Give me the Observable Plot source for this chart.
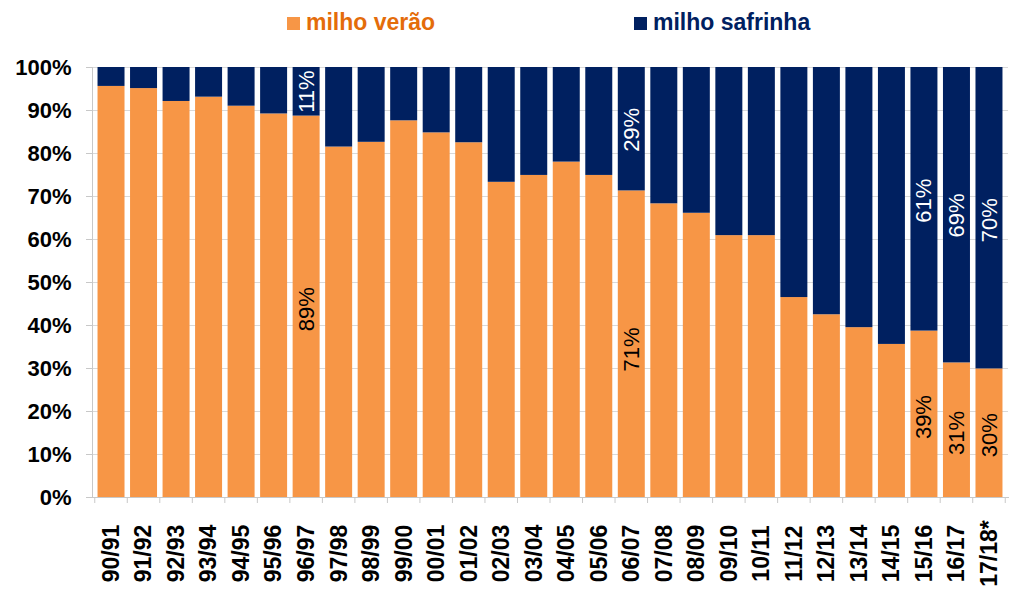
<!DOCTYPE html>
<html><head><meta charset="utf-8">
<script src="https://cdn.jsdelivr.net/npm/d3@7"></script>
<script src="https://cdn.jsdelivr.net/npm/@observablehq/plot@0.6"></script>
<style>
body{margin:0;background:#fff;width:1024px;height:596px;overflow:hidden;font-family:"Liberation Sans",Arial,sans-serif}
#legend{position:relative;height:50px}
.item{position:absolute;top:9px;font-family:"Liberation Sans",Arial,sans-serif;font-weight:bold;font-size:23px;line-height:26px;white-space:nowrap}
.sw{display:inline-block;width:13px;height:13px;margin-right:6px;vertical-align:0px}
</style></head><body>
<div id="legend"></div><div id="chart"></div>
<script>
const seasons = ["90/91","91/92","92/93","93/94","94/95","95/96","96/97","97/98","98/99","99/00","00/01","01/02","02/03","03/04","04/05","05/06","06/07","07/08","08/09","09/10","10/11","11/12","12/13","13/14","14/15","15/16","16/17","17/18*"];
const verao = [95.6,95.1,92.1,93.1,91.0,89.2,88.7,81.5,82.6,87.6,84.8,82.5,73.3,74.9,78.0,74.9,71.3,68.3,66.1,60.9,60.9,46.5,42.5,39.5,35.6,38.7,31.3,29.9];
const seriesNames = ["milho verão","milho safrinha"];
const seriesColors = ["#F79646","#002060"];
const legendTextColors = ["#E46C0A","#002060"];
const labelTextColors = ["#000000","#ffffff"];
const yTicks = [0,10,20,30,40,50,60,70,80,90,100];

// data labels: season, series, text, label-centre value (%)
const labelSeason = ["96/97","96/97","06/07","06/07","15/16","15/16","16/17","16/17","17/18*","17/18*"];
const labelSeries = ["milho verão","milho safrinha","milho verão","milho safrinha","milho verão","milho safrinha","milho verão","milho safrinha","milho verão","milho safrinha"];
const labelText = ["89%","11%","71%","29%","39%","61%","31%","69%","30%","70%"];
const labelAt = [43.8,94.4,34.4,85.5,18.7,69,15,65.6,14.5,64.5];

const rows = [];
seriesNames.forEach((s, k) => seasons.forEach((season, i) => rows.push({season, series: s, value: k === 0 ? verao[i] : 100 - verao[i]})));
const labels = labelText.map((t, i) => ({season: labelSeason[i], series: labelSeries[i], text: t, y: labelAt[i]}));

const legend = document.getElementById("legend");
const legendLeft = [287, 634];
seriesNames.forEach((s, k) => {
  const d = document.createElement("div");
  d.className = "item";
  d.style.left = legendLeft[k] + "px";
  d.style.color = legendTextColors[k];
  d.innerHTML = `<span class="sw" style="background:${seriesColors[k]}"></span>${s}`;
  legend.appendChild(d);
});

const pad = 0.17;
const boundaryTicks = (index, scales, values, dim) => {
  const x = scales.x;
  const step = x(seasons[1]) - x(seasons[0]);
  const bw = step * (1 - pad);
  const y0 = dim.height - dim.marginBottom;
  const g = d3.create("svg:g").attr("stroke", "#c8c8c8");
  const xs = seasons.map(s => x(s) - step * pad / 2);
  xs.push(x(seasons[seasons.length - 1]) + bw + step * pad / 2);
  xs.forEach(v => g.append("line").attr("x1", v).attr("x2", v).attr("y1", y0).attr("y2", y0 + 6));
  return g.node();
};

const chart = Plot.plot({
  width: 1024, height: 546,
  marginTop: 17, marginBottom: 99, marginLeft: 92, marginRight: 16,
  style: {fontFamily: "'Liberation Sans', Arial, sans-serif", background: "#fff"},
  x: {domain: seasons, padding: pad, round: false, label: null},
  y: {domain: [0, 100], label: null},
  color: {domain: seriesNames, range: seriesColors},
  marks: [
    Plot.gridY(yTicks, {stroke: "#d9d9d9", strokeOpacity: 1}),
    Plot.barY(rows, Plot.stackY({x: "season", y: "value", fill: "series", order: null})),
    Plot.frame({anchor: "left", stroke: "#c8c8c8"}),
    Plot.frame({anchor: "bottom", stroke: "#c8c8c8"}),
    boundaryTicks,
    Plot.axisY({ticks: yTicks, tickFormat: d => d + "%", tickSize: 6, tickPadding: 15, stroke: "#c8c8c8", fill: "#000", fontSize: 22, fontWeight: "bold", label: null}),
    Plot.axisX({tickRotate: -90, tickSize: 0, tickPadding: 56, textAnchor: "middle", fill: "#000", fontSize: 23, fontWeight: "bold", label: null}),
    Plot.text(labels, {x: "season", y: "y", text: "text", rotate: -90, fontSize: 22, fill: d => labelTextColors[seriesNames.indexOf(d.series)]})
  ]
});
document.getElementById("chart").appendChild(chart);
</script>
</body></html>
